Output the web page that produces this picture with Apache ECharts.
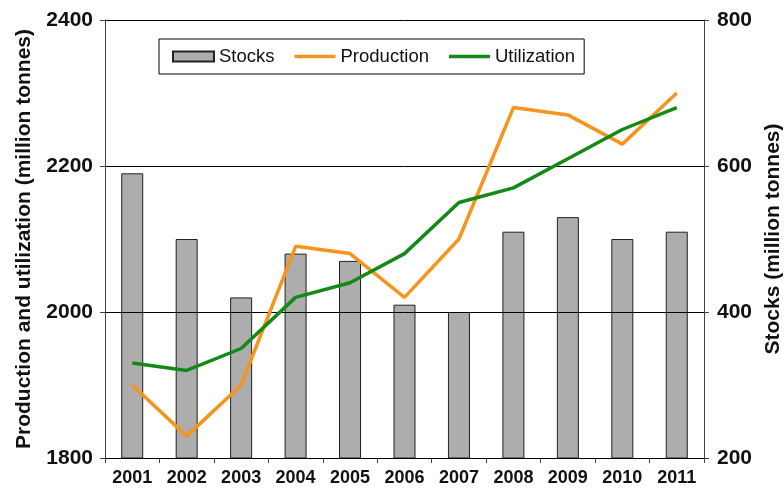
<!doctype html>
<html lang="en">
<head>
  <meta charset="UTF-8">
  <script src="https://cdn.jsdelivr.net/npm/echarts@6/dist/echarts.min.js"></script>
  <title>Stocks, production and utilization</title>
  <style type="text/css">
    html, body {
      width: 100%;
      height: 100%;
      margin: 0;
      padding: 0;
      background-color: #ffffff;
    }

    #canvas {
      width: 784px;
      height: 488px;
    }
  </style>
</head>

<body>
<div id="canvas"></div>

<script type="text/javascript">
  const years = ['2001', '2002', '2003', '2004', '2005', '2006', '2007', '2008', '2009', '2010', '2011']
  const stocks = [590, 500, 420, 480, 470, 410, 400, 510, 530, 500, 510]
  const production = [1900, 1830, 1900, 2090, 2080, 2020, 2100, 2280, 2270, 2230, 2300]
  const utilization = [1930, 1920, 1950, 2020, 2040, 2080, 2150, 2170, 2210, 2250, 2280]

  const font = '"Liberation Sans", Arial, Helvetica, sans-serif'
  const axisColor = '#444'
  const textColor = '#111'
  const lineIcon = 'path://M0,0H41V3.5H0Z'

  const chart = echarts.init(document.getElementById('canvas'))

  const valueLabel = margin => ({
    margin: margin,
    fontSize: 21,
    fontWeight: 'bold',
    color: textColor,
    fontFamily: font,
    formatter: v => String(v),
  })

  const axisName = { fontSize: 21, fontWeight: 'bold', color: textColor, fontFamily: font }

  chart.setOption({
    animation: false,
    textStyle: { fontFamily: font },
    grid: {
      top: 20,
      left: 105,
      right: 80,
      bottom: 30,
      containLabel: false,
      outerBoundsMode: 'none',
    },
    legend: {
      left: 159,
      top: 39,
      padding: [8, 9, 8, 13],
      borderColor: '#000',
      borderWidth: 1,
      itemWidth: 41,
      itemHeight: 10,
      itemGap: 20,
      symbolKeepAspect: true,
      textStyle: { fontSize: 18.5, color: textColor, fontFamily: font },
      data: [
        { name: 'Stocks', icon: 'rect' },
        { name: 'Production', icon: lineIcon },
        { name: 'Utilization', icon: lineIcon },
      ],
    },
    xAxis: {
      type: 'category',
      data: years,
      boundaryGap: true,
      axisLine: { lineStyle: { color: axisColor, width: 1 } },
      axisTick: { show: true, length: 5, lineStyle: { color: axisColor } },
      axisLabel: {
        margin: 11,
        fontSize: 18,
        fontWeight: 'bold',
        color: textColor,
        fontFamily: font,
      },
    },
    yAxis: [
      {
        type: 'value',
        min: 1800,
        max: 2400,
        interval: 200,
        position: 'left',
        z: 3,
        name: 'Production and utilization (million tonnes)',
        nameLocation: 'middle',
        nameGap: 70,
        nameTextStyle: axisName,
        axisLine: { show: true, lineStyle: { color: axisColor, width: 1 } },
        axisTick: { show: true, length: 5, lineStyle: { color: axisColor } },
        axisLabel: valueLabel(12),
        splitLine: { show: true, lineStyle: { color: '#000', width: 1 } },
      },
      {
        type: 'value',
        min: 200,
        max: 800,
        interval: 200,
        position: 'right',
        name: 'Stocks (million tonnes)',
        nameLocation: 'middle',
        nameGap: 59,
        nameTextStyle: axisName,
        axisLine: { show: true, lineStyle: { color: axisColor, width: 1 } },
        axisTick: { show: true, length: 5, lineStyle: { color: axisColor } },
        axisLabel: valueLabel(13),
        splitLine: { show: false },
      }
    ],
    series: [
      {
        name: 'Stocks',
        type: 'bar',
        yAxisIndex: 1,
        barWidth: 22,
        z: 2,
        itemStyle: {
          color: '#adadad',
          borderColor: '#222',
          borderWidth: 1,
        },
        data: stocks,
      },
      {
        name: 'Production',
        type: 'line',
        yAxisIndex: 0,
        z: 4,
        symbol: 'none',
        lineStyle: { width: 3.5, color: '#f7941d' },
        itemStyle: { color: '#f7941d' },
        data: production,
      },
      {
        name: 'Utilization',
        type: 'line',
        yAxisIndex: 0,
        z: 4,
        symbol: 'none',
        lineStyle: { width: 3.5, color: '#138a16' },
        itemStyle: { color: '#138a16' },
        data: utilization,
      }
    ]
  })
</script>
</body>
</html>
